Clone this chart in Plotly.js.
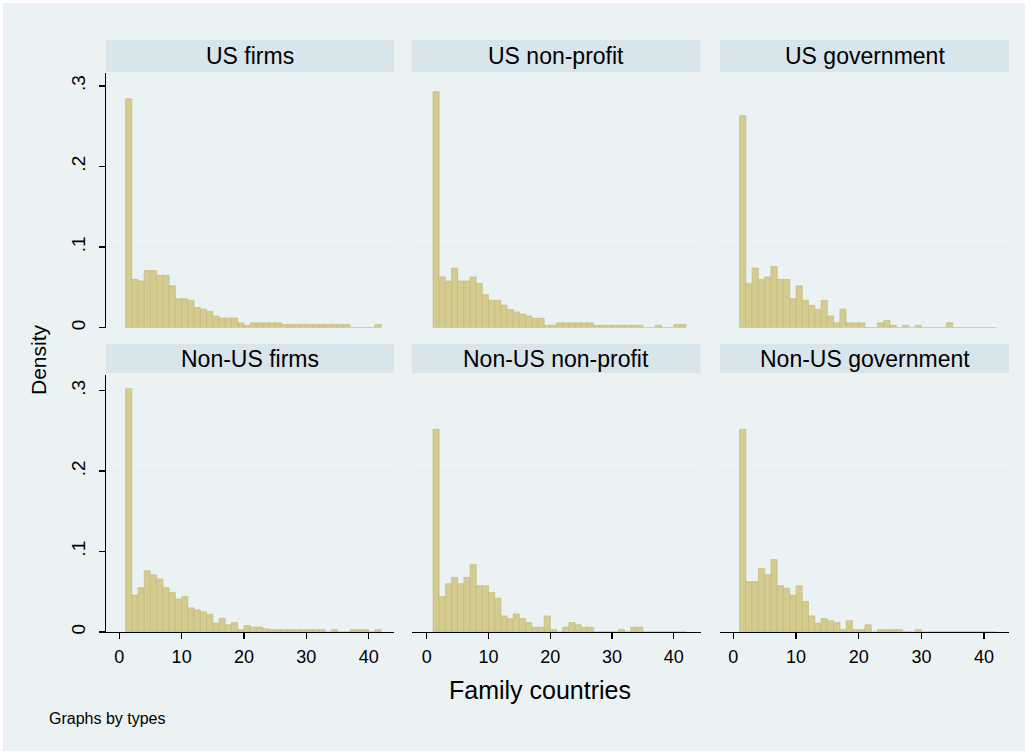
<!DOCTYPE html>
<html>
<head>
<meta charset="utf-8">
<script src="https://cdn.plot.ly/plotly-3.0.1.min.js"></script>
<style>html,body{margin:0;padding:0;background:#fff;}#chart{width:1034px;height:754px;}</style>
</head>
<body>
<div id="chart"></div>
<script>
// ---- DATA (density per bin of width 1, bins start at 1: [1,2), [2,3), ... [41,42)) ----
const binStarts = Array.from({length: 41}, (_, i) => i + 1);
const panelTitles = ["US firms", "US non-profit", "US government", "Non-US firms", "Non-US non-profit", "Non-US government"];
const usFirms = [0.284,0.060,0.058,0.071,0.071,0.065,0.065,0.052,0.036,0.036,
                 0.034,0.025,0.023,0.020,0.0146,0.012,0.012,0.012,0.006,0.003,
                 0.006,0.006,0.006,0.006,0.006,0.004,0.004,0.004,0.004,0.004,
                 0.004,0.004,0.004,0.004,0.004,0.004,0,0,0,0,0.004];
const usNonProfit = [0.293,0.063,0.058,0.074,0.058,0.058,0.063,0.055,0.041,0.034,
                     0.034,0.028,0.0225,0.0196,0.017,0.0146,0.0117,0.0117,0.003,0.003,
                     0.006,0.006,0.006,0.006,0.006,0.006,0.003,0.003,0.003,0.003,
                     0.003,0.003,0.003,0.003,0,0,0.003,0,0,0.004,0.004];
const usGovernment = [0.263,0.055,0.074,0.060,0.063,0.076,0.060,0.060,0.036,0.052,
                      0.034,0.028,0.023,0.034,0.0146,0.006,0.023,0.006,0.006,0.006,
                      0,0,0.006,0.009,0.003,0,0.003,0,0.003,0,
                      0,0,0,0.006,0,0,0,0,0,0,0];
const nonUsFirms = [0.3025,0.046,0.055,0.076,0.071,0.066,0.055,0.049,0.041,0.044,
                    0.030,0.0275,0.025,0.022,0.011,0.017,0.009,0.012,0.003,0.008,
                    0.006,0.006,0.004,0.003,0.003,0.003,0.003,0.003,0.003,0.003,
                    0.003,0.003,0,0.003,0,0,0.003,0.003,0.003,0,0.003];
const nonUsNonProfit = [0.252,0.044,0.060,0.068,0.060,0.068,0.084,0.0575,0.0575,0.049,
                        0.042,0.020,0.0167,0.0225,0.0167,0.0117,0.006,0.006,0.020,0.003,
                        0,0.006,0.0117,0.009,0.006,0.006,0,0,0,0,
                        0.003,0,0.006,0.006,0,0,0,0,0,0,0];
const nonUsGovernment = [0.252,0.0625,0.0625,0.079,0.071,0.090,0.0575,0.0546,0.046,0.0575,
                         0.038,0.020,0.011,0.0167,0.014,0.0117,0.003,0.014,0.003,0.003,
                         0.009,0,0.003,0.003,0.003,0.003,0,0,0.003,0,
                         0,0,0,0,0,0,0,0,0,0,0];
const yTickVals = [0, 0.1, 0.2, 0.3];
const yTickText = ["0", ".1", ".2", ".3"];
const xTickVals = [0, 10, 20, 30, 40];
const xTickText = ["0", "10", "20", "30", "40"];
const xTitle = "Family countries";
const yTitle = "Density";
const noteText = "Graphs by types";

const series = [usFirms, usNonProfit, usGovernment, nonUsFirms, nonUsNonProfit, nonUsGovernment];

// ---- LAYOUT GEOMETRY (pixels) ----
const W = 1034, H = 754;
const px = v => v / W;
const py = v => 1 - v / H;
const cols = [[106, 394], [411.7, 700.7], [720, 1009]];
const xRanges = [[-2.13, 44.06], [-2.45, 44.35], [-2.12, 43.97]];
const rows = [{plot: [73, 327.7], head: [40, 72], yr: [0, 0.3161]},
              {plot: [375, 632], head: [344, 373], yr: [0, 0.3195]}];

const FONT = "Liberation Sans, Arial, sans-serif";
const barFill = "rgb(211,203,143)";
const barLine = "rgb(194,184,118)";
const gridCol = "rgb(230,239,241)";

const traces = [];
const layout = {
  width: W, height: H, autosize: false,
  margin: {l: 0, r: 0, t: 0, b: 0, pad: 0},
  paper_bgcolor: "#ffffff",
  plot_bgcolor: "#ffffff",
  showlegend: false,
  bargap: 0,
  font: {family: FONT, color: "#000", size: 16},
  shapes: [],
  annotations: []
};

// outer background
layout.shapes.push({type: "rect", xref: "paper", yref: "paper", layer: "below",
  x0: px(3), x1: px(1025), y0: py(751), y1: py(3),
  fillcolor: "rgb(234,242,243)", line: {width: 0}});

for (let i = 0; i < 6; i++) {
  const r = Math.floor(i / 3), c = i % 3;
  const k = i === 0 ? "" : String(i + 1);
  const xa = "x" + k, ya = "y" + k;
  traces.push({
    type: "bar", x: binStarts, y: series[i], xaxis: xa, yaxis: ya,
    offset: 0, width: 1,
    marker: {color: barFill, line: {color: barLine, width: 0.6}},
    hoverinfo: "skip"
  });
  const row = rows[r];
  layout["xaxis" + k] = {
    domain: [px(cols[c][0]), px(cols[c][1])],
    range: xRanges[c], anchor: ya, showgrid: false, zeroline: false,
    showline: r === 1, linecolor: "#000", linewidth: 1.3,
    ticks: r === 1 ? "outside" : "", ticklen: 6, tickwidth: 1.3, tickcolor: "#000",
    tickvals: xTickVals, ticktext: xTickText, showticklabels: r === 1,
    tickfont: {family: FONT, size: 18, color: "#000"}, fixedrange: true,
    ticklabelstandoff: 2
  };
  layout["yaxis" + k] = {
    domain: [py(row.plot[1]), py(row.plot[0])],
    range: row.yr, anchor: xa, zeroline: false,
    showgrid: true, gridcolor: gridCol, gridwidth: 1.5,
    tickvals: yTickVals, ticktext: yTickText,
    showline: c === 0, linecolor: "#000", linewidth: 1.3,
    ticks: c === 0 ? "outside" : "", ticklen: 6, tickwidth: 1.3, tickcolor: "#000",
    showticklabels: c === 0, tickangle: -90,
    tickfont: {family: FONT, size: 19, color: "#000"}, fixedrange: true,
    ticklabelstandoff: 6
  };
  // header strip
  layout.shapes.push({type: "rect", xref: "paper", yref: "paper", layer: "below",
    x0: px(cols[c][0]), x1: px(cols[c][1]), y0: py(row.head[1]), y1: py(row.head[0]),
    fillcolor: "rgb(216,229,234)", line: {width: 0}});
  layout.annotations.push({xref: "paper", yref: "paper",
    x: px((cols[c][0] + cols[c][1]) / 2), y: py((row.head[0] + row.head[1]) / 2),
    xanchor: "center", yanchor: "middle", showarrow: false,
    text: panelTitles[i], font: {family: FONT, size: 23, color: "#000"}});
}

layout.annotations.push({xref: "paper", yref: "paper", x: px(38), y: py(360),
  xanchor: "center", yanchor: "middle", showarrow: false, textangle: -90,
  text: yTitle, font: {family: FONT, size: 21, color: "#000"}});
layout.annotations.push({xref: "paper", yref: "paper", x: px(540), y: py(690),
  xanchor: "center", yanchor: "middle", showarrow: false,
  text: xTitle, font: {family: FONT, size: 25, color: "#000"}});
layout.annotations.push({xref: "paper", yref: "paper", x: px(47), y: py(718),
  xanchor: "left", yanchor: "middle", showarrow: false,
  text: noteText, font: {family: FONT, size: 16, color: "#000"}});

Plotly.newPlot("chart", traces, layout, {displayModeBar: false, staticPlot: true});
</script>
</body>
</html>
